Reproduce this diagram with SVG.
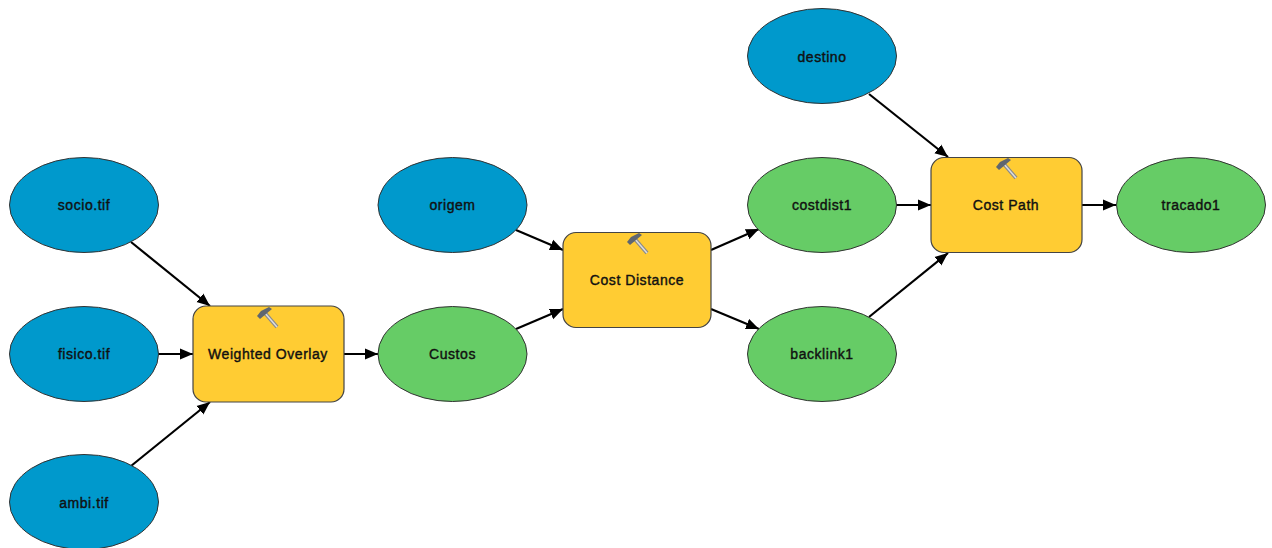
<svg xmlns="http://www.w3.org/2000/svg" width="1272" height="548" viewBox="0 0 1272 548">
<defs>
<style>
.in{fill:#0099cc;stroke:#333;stroke-width:1}
.out{fill:#66cc66;stroke:#333;stroke-width:1}
.tool{fill:#ffcc33;stroke:#444;stroke-width:1.200}
text{font-family:"Liberation Sans",Arial,sans-serif;font-size:14px;letter-spacing:.55px;text-anchor:middle;fill:#111;stroke:#111;stroke-width:.4}
.c line{stroke:#000;stroke-width:2.200;marker-end:url(#a)}
</style>
<marker id="a" markerUnits="userSpaceOnUse" markerWidth="14" markerHeight="12" refX="13" refY="6" orient="auto"><path d="M0 .5L13 6L0 11.500z" fill="#000"/></marker>
<g id="hammer">
<path d="M0 0L13 15" stroke="#8a8a8a" stroke-width="3.800" fill="none"/>
<path d="M0 0L13 15" stroke="#ddd" stroke-width="1.500" fill="none"/>
<path d="M-7 4L-3 -1L5 -5L8 -3L2 2L-4 7z" fill="#5f6670"/>
</g>
</defs>
<rect width="1272" height="548" fill="#fff"/>
<g id="connectors" class="c">
<line x1="131" y1="242" x2="210" y2="306"/>
<line x1="158" y1="354" x2="193" y2="354"/>
<line x1="131" y1="466" x2="210" y2="402"/>
<line x1="344" y1="354" x2="378" y2="354"/>
<line x1="516" y1="230" x2="563" y2="250"/>
<line x1="516" y1="329" x2="563" y2="309"/>
<line x1="711" y1="250" x2="759" y2="229"/>
<line x1="711" y1="309" x2="759" y2="329"/>
<line x1="869" y1="94" x2="948" y2="157"/>
<line x1="896" y1="205" x2="931" y2="205"/>
<line x1="869" y1="317" x2="948" y2="253"/>
<line x1="1082" y1="205" x2="1116" y2="205"/>
</g>
<g id="socio"><ellipse class="in" cx="84" cy="205" rx="74.500" ry="47.500"/><text x="84" y="210">socio.tif</text></g>
<g id="fisico"><ellipse class="in" cx="84" cy="354" rx="74.500" ry="47.500"/><text x="84" y="359">fisico.tif</text></g>
<g id="ambi"><ellipse class="in" cx="84" cy="502" rx="74.500" ry="47.500"/><text x="84" y="508">ambi.tif</text></g>
<g id="weighted-overlay"><rect class="tool" x="193" y="306" width="151" height="96" rx="13"/><use href="#hammer" x="264" y="312"/><text x="268" y="359">Weighted Overlay</text></g>
<g id="custos"><ellipse class="out" cx="452.500" cy="354" rx="74.500" ry="47.500"/><text x="452.500" y="359">Custos</text></g>
<g id="origem"><ellipse class="in" cx="452.500" cy="205" rx="74.500" ry="47.500"/><text x="452.500" y="210">origem</text></g>
<g id="cost-distance"><rect class="tool" x="563" y="232.500" width="148" height="95" rx="13"/><use href="#hammer" x="634" y="238"/><text x="637" y="285">Cost Distance</text></g>
<g id="costdist1"><ellipse class="out" cx="822" cy="205" rx="74.500" ry="47.500"/><text x="822" y="210">costdist1</text></g>
<g id="backlink1"><ellipse class="out" cx="822" cy="354" rx="74.500" ry="47.500"/><text x="822" y="359">backlink1</text></g>
<g id="destino"><ellipse class="in" cx="822" cy="56" rx="74.500" ry="47.500"/><text x="822" y="62">destino</text></g>
<g id="cost-path"><rect class="tool" x="931" y="157.500" width="151" height="95" rx="13"/><use href="#hammer" x="1003" y="163"/><text x="1006" y="210">Cost Path</text></g>
<g id="tracado1"><ellipse class="out" cx="1191" cy="205" rx="74.500" ry="47.500"/><text x="1191" y="210">tracado1</text></g>
</svg>
